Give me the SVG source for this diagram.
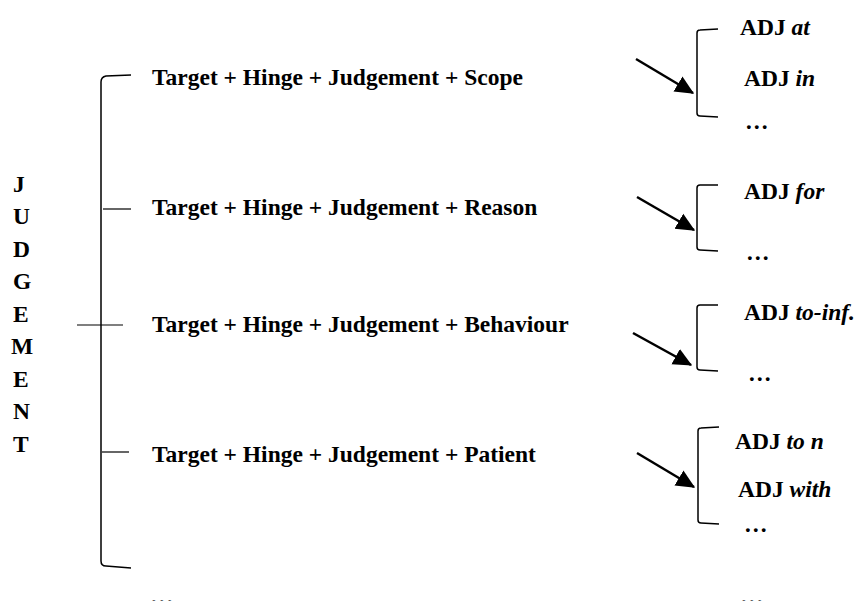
<svg xmlns="http://www.w3.org/2000/svg" width="859" height="601" viewBox="0 0 859 601">
<defs>
<marker id="ah" markerWidth="8" markerHeight="8" refX="7" refY="4" orient="auto" markerUnits="strokeWidth">
<path d="M0,0.5 L7.5,4 L0,7.5 Z" fill="#000"/>
</marker>
<style>
text{font-family:"Liberation Serif","Times New Roman",serif;font-weight:bold;font-size:23.5px;fill:#000}
.i{font-style:italic}
.br{fill:none;stroke:#000;stroke-width:1.5}
.tk{stroke:#000;stroke-width:1.2}
.ar{stroke:#000;stroke-width:2.5;marker-end:url(#ah)}
</style>
</defs>
<rect width="859" height="601" fill="#fff"/>
<g id="judgement">
<text x="13" y="192">J</text>
<text x="13" y="224">U</text>
<text x="13" y="257">D</text>
<text x="13" y="289">G</text>
<text x="13" y="322">E</text>
<text x="11" y="354">M</text>
<text x="13" y="387">E</text>
<text x="13" y="419">N</text>
<text x="13" y="452">T</text>
</g>
<g id="connectors">
<path class="br" d="M131,75 L106,76 Q101,77 101,82 L101,561 Q101,566 106,566 L131,568"/>
<line class="tk" x1="103" y1="209" x2="131" y2="209"/>
<line class="tk" x1="77" y1="325" x2="123" y2="325"/>
<line class="tk" x1="102" y1="452" x2="129" y2="452"/>
<line class="ar" x1="636" y1="59" x2="693" y2="93"/>
<line class="ar" x1="637" y1="197" x2="694" y2="230"/>
<line class="ar" x1="633" y1="333" x2="691" y2="365"/>
<line class="ar" x1="637" y1="453" x2="694" y2="487"/>
<path class="br" d="M718,29 L700,30 Q697,30 697,33 L697,113 Q697,116 700,116 L718,117"/>
<path class="br" d="M718,185 L700,185 Q697,185 697,188 L697,247 Q697,250 700,250 L718,251"/>
<path class="br" d="M718,305 L700,305 Q697,305 697,308 L697,367 Q697,370 700,370 L718,371"/>
<path class="br" d="M719,427 L701,428 Q698,428 698,431 L698,520 Q698,523 701,523 L719,524"/>
</g>
<g id="row1"><text x="152" y="85">Target + Hinge + Judgement + Scope</text></g>
<g id="row2"><text x="152" y="215">Target + Hinge + Judgement + Reason</text></g>
<g id="row3"><text x="152" y="332">Target + Hinge + Judgement + Behaviour</text></g>
<g id="row4"><text x="152" y="462">Target + Hinge + Judgement + Patient</text></g>
<g id="row5"><text x="150" y="603.5">…</text></g>
<g id="adj1">
<text x="740" y="35">ADJ <tspan class="i">at</tspan></text>
<text x="744" y="86">ADJ <tspan class="i">in</tspan></text>
<text x="745" y="129">…</text>
</g>
<g id="adj2">
<text x="744" y="199">ADJ <tspan class="i">for</tspan></text>
<text x="746" y="260">…</text>
</g>
<g id="adj3">
<text x="744" y="320">ADJ <tspan class="i">to-inf.</tspan></text>
<text x="748" y="381">…</text>
</g>
<g id="adj4">
<text x="735" y="449">ADJ <tspan class="i">to n</tspan></text>
<text x="738" y="497">ADJ <tspan class="i">with</tspan></text>
<text x="744" y="532">…</text>
</g>
<g id="adj5"><text x="740" y="603.5">…</text></g>
</svg>
